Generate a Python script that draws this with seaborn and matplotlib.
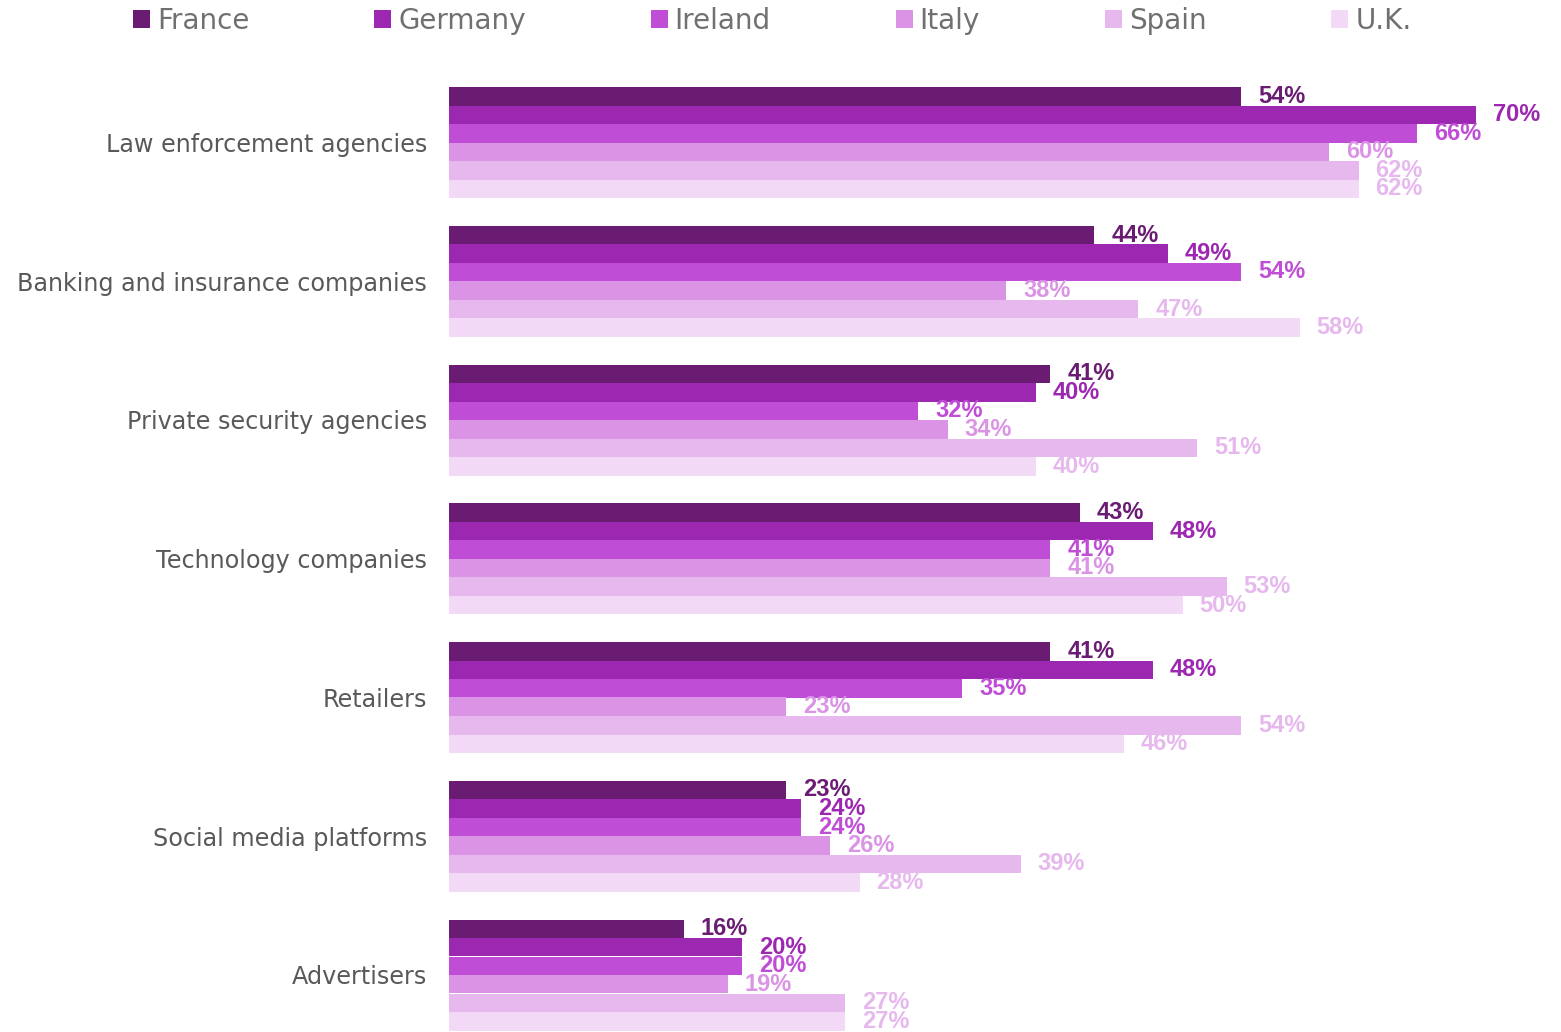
import matplotlib
matplotlib.use("Agg")
import matplotlib.pyplot as plt
from matplotlib.patches import Patch
import seaborn as sns
import pandas as pd

categories = ["Law enforcement agencies", "Banking and insurance companies",
              "Private security agencies", "Technology companies", "Retailers",
              "Social media platforms", "Advertisers"]
countries = ["France", "Germany", "Ireland", "Italy", "Spain", "U.K."]

france = [54, 44, 41, 43, 41, 23, 16]
germany = [70, 49, 40, 48, 48, 24, 20]
ireland = [66, 54, 32, 41, 35, 24, 20]
italy = [60, 38, 34, 41, 23, 26, 19]
spain = [62, 47, 51, 53, 54, 39, 27]
uk = [62, 58, 40, 50, 46, 28, 27]

bar_colors = ["#6A1B72", "#9C27B0", "#C04DD6", "#DB94E5", "#E6B8EE", "#F2DAF6"]
label_colors = ["#6A1B72", "#9C27B0", "#C04DD6", "#DB94E5", "#E6B8EE", "#E6B8EE"]

rows = []
for country, vals in zip(countries, [france, germany, ireland, italy, spain, uk]):
    for cat, v in zip(categories, vals):
        rows.append({"category": cat, "country": country, "value": v})
df = pd.DataFrame(rows)

sns.set_style("white")
W, H = 1561, 1032
fig = plt.figure(figsize=(W / 100, H / 100), dpi=100)
ax = fig.add_axes([449 / W, 0, 1 - 449 / W, (H - 60) / H])

sns.barplot(data=df, y="category", x="value", hue="country", order=categories,
            hue_order=countries, palette=bar_colors, orient="h", width=0.8,
            saturation=1, legend=False, ax=ax, linewidth=0)

ax.set_xlim(0, (W - 449) / 14.67)
ax.set_ylim((H - 142.5) / 138.75, (60 - 142.5) / 138.75)

for container, col in zip(ax.containers, label_colors):
    for bar in container:
        w = bar.get_width()
        ax.annotate(f"{w:.0f}%", (w, bar.get_y() + bar.get_height() / 2),
                    xytext=(12, 0), textcoords="offset points", va="center",
                    ha="left", color=col, fontsize=17, fontweight="bold",
                    family="Liberation Sans", annotation_clip=False)

ax.set_xlabel("")
ax.set_ylabel("")
ax.set_xticks([])
ax.tick_params(axis="y", length=0, pad=16)
for t in ax.get_yticklabels():
    t.set_fontsize(17.2)
    t.set_color("#595959")
    t.set_family("DejaVu Sans")
sns.despine(ax=ax, left=True, bottom=True)

handles = [Patch(facecolor=c, edgecolor="none") for c in bar_colors]
leg = fig.legend(handles, countries, ncol=6, loc="center left",
                 bbox_to_anchor=(133 / W, 1 - 21 / H), frameon=False,
                 fontsize=20, handlelength=0.61, handleheight=0.61,
                 handletextpad=0.25, columnspacing=4.5, borderpad=0,
                 borderaxespad=0)
for t in leg.get_texts():
    t.set_color("#707070")

fig.savefig("out.png", dpi=100)
